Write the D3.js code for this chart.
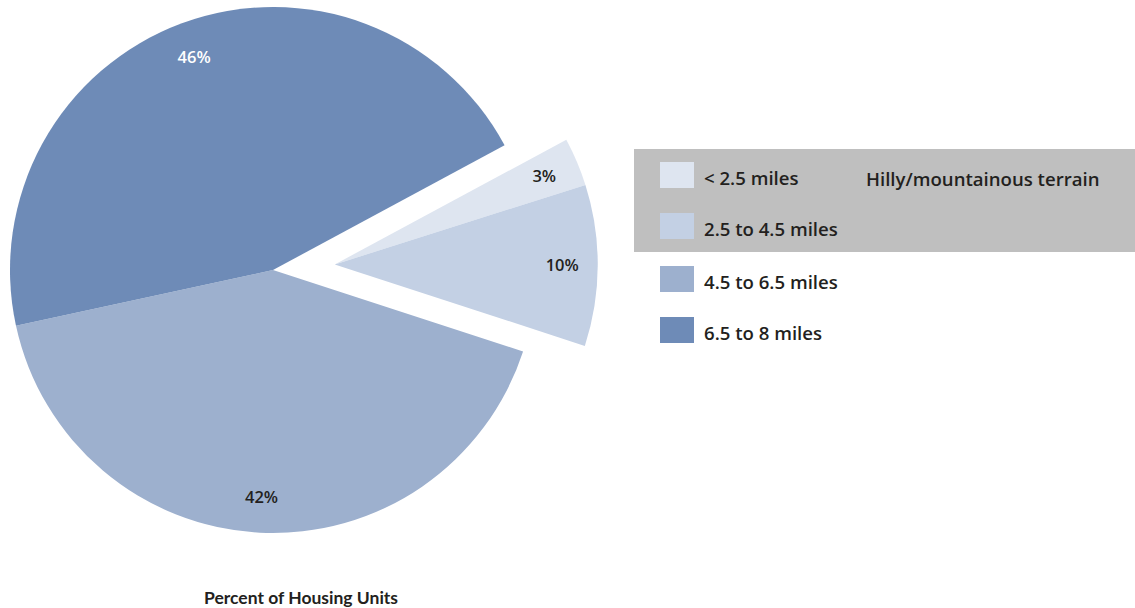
<!DOCTYPE html>
<html>
<head>
<meta charset="utf-8">
<script src="https://cdn.jsdelivr.net/npm/d3@7"></script>
<style>
  html, body { margin: 0; padding: 0; background: #ffffff; }
  svg { display: block; font-family: "Open Sans", Lato, sans-serif; }
</style>
</head>
<body>
<svg id="chart" width="1135" height="608"></svg>
<script>
// Distance bands and share of housing units in each
const categories = ["< 2.5 miles", "2.5 to 4.5 miles", "4.5 to 6.5 miles", "6.5 to 8 miles"];
const values = [3, 10, 42, 46];
const colors = ["#dee5f0", "#c3d0e4", "#9db0ce", "#6e8bb7"];
const labelColors = ["#231f20", "#231f20", "#231f20", "#ffffff"];
// Bands grouped as hilly/mountainous terrain (pulled out of the pie)
const hilly = [true, true, false, false];
const groupTitle = "Hilly/mountainous terrain";
const footer = "Percent of Housing Units";

const svg = d3.select("#chart");
const cx = 273, cy = 270, radius = 263, explode = 62;

const pie = d3.pie()
  .value(d => d)
  .sort(null)
  .startAngle(61.7 * Math.PI / 180)
  .endAngle(61.7 * Math.PI / 180 + 2 * Math.PI);
const arcs = pie(values);

const arc = d3.arc().innerRadius(0).outerRadius(radius);
const labelArc = d3.arc().innerRadius(radius * 0.865).outerRadius(radius * 0.865);

// Pull-out direction: middle of the combined hilly slices
const hillyArcs = arcs.filter((a, i) => hilly[i]);
const midAngle = (d3.min(hillyArcs, a => a.startAngle) + d3.max(hillyArcs, a => a.endAngle)) / 2;
const dx = Math.sin(midAngle) * explode, dy = -Math.cos(midAngle) * explode;

const g = svg.append("g").attr("transform", `translate(${cx},${cy})`);

const slices = g.selectAll("g.slice")
  .data(arcs)
  .join("g")
  .attr("class", "slice")
  .attr("transform", (a, i) => hilly[i] ? `translate(${dx},${dy})` : null);

slices.append("path")
  .attr("d", arc)
  .attr("fill", (a, i) => colors[i]);

slices.append("text")
  .attr("transform", a => `translate(${labelArc.centroid(a)})`)
  .attr("text-anchor", "middle")
  .attr("dy", "0.36em")
  .attr("font-size", 16.5)
  .attr("font-weight", 600)
  .attr("fill", (a, i) => labelColors[i])
  .text(a => `${a.data}%`);

// Legend
const legendX = 660, legendY = 162, rowGap = 51;

svg.append("rect")
  .attr("x", 634)
  .attr("y", 149)
  .attr("width", 1135 - 634)
  .attr("height", 103)
  .attr("fill", "#bfbfbf");

const legend = svg.append("g");
const rows = legend.selectAll("g")
  .data(categories)
  .join("g")
  .attr("transform", (d, i) => `translate(${legendX},${legendY + i * rowGap + (i >= 2 ? 2 : 0)})`);

rows.append("rect")
  .attr("width", 34)
  .attr("height", 26)
  .attr("fill", (d, i) => colors[i]);

rows.append("text")
  .attr("x", 44)
  .attr("y", 23)
  .attr("font-size", 18.6)
  .attr("font-weight", 600)
  .attr("fill", "#231f20")
  .text(d => d);

svg.append("text")
  .attr("x", 866)
  .attr("y", legendY + 24)
  .attr("font-size", 18.6)
  .attr("font-weight", 600)
  .attr("fill", "#231f20")
  .text(groupTitle);

svg.append("text")
  .attr("x", 301)
  .attr("y", 604)
  .attr("text-anchor", "middle")
  .attr("font-family", "Lato, sans-serif")
  .attr("font-size", 17.5)
  .attr("font-weight", 700)
  .attr("fill", "#231f20")
  .text(footer);
</script>
</body>
</html>
